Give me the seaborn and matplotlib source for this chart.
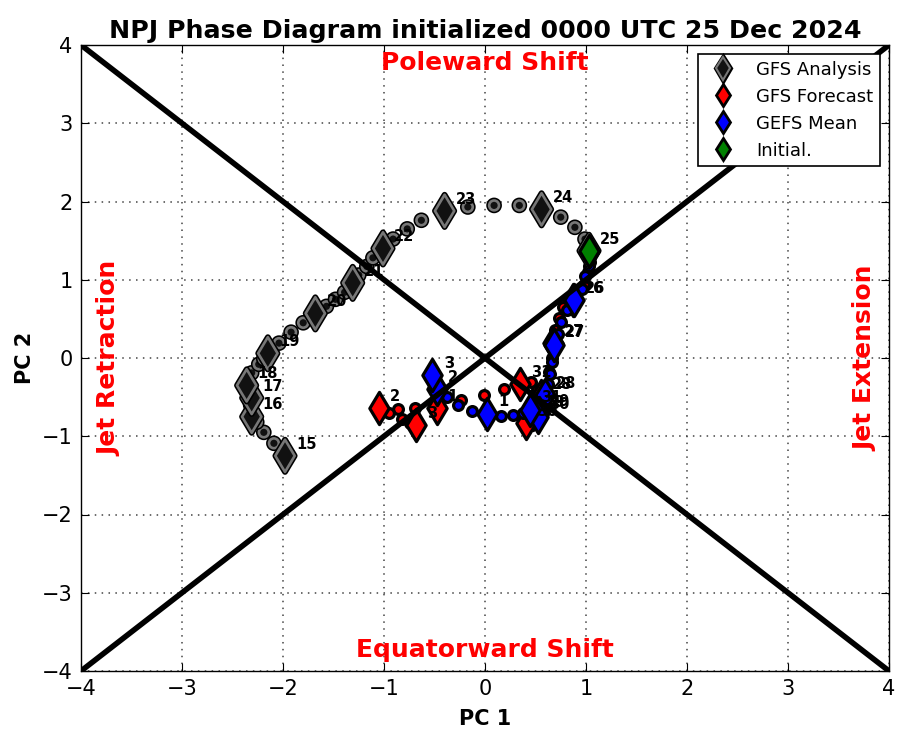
import matplotlib
matplotlib.use("Agg")
import matplotlib.pyplot as plt
import matplotlib.patheffects as pe
from matplotlib.lines import Line2D
import pandas as pd
import seaborn as sns

sns.set_style("white")
plt.rcParams['font.family'] = ['DejaVu Sans']
plt.rcParams['text.color'] = 'black'
plt.rcParams['axes.labelcolor'] = 'black'
plt.rcParams['xtick.color'] = 'black'
plt.rcParams['ytick.color'] = 'black'

# every 4th value is a daily (diamond) point
ana_x = [-1.98,-2.09,-2.19,-2.26,-2.31,-2.31,-2.32,-2.31,-2.31,-2.32,-2.35,-2.37,-2.36,-2.31,-2.24,-2.19,-2.15,-2.04,-1.92,-1.80,-1.68,-1.57,-1.48,-1.39,-1.31,-1.25,-1.17,-1.11,-1.01,-.91,-.77,-.63,-.40,-.17,.09,.34,.56,.75,.89,.99,1.03]
ana_y = [-1.25,-1.09,-.95,-.82,-.75,-.68,-.60,-.55,-.51,-.46,-.42,-.38,-.35,-.19,-.08,-.01,.06,.19,.33,.45,.57,.66,.75,.84,.96,1.06,1.17,1.28,1.40,1.52,1.65,1.76,1.88,1.93,1.95,1.95,1.90,1.80,1.67,1.52,1.37]
ana_days = ["15","16","17","18","19","20","21","22","23","24","25"]

gfs_x = [1.03,1.04,1.02,.98,.87,.77,.73,.69,.67,.66,.63,.60,.55,.52,.50,.50,.48,.46,.44,.42,.41,.48,.51,.46,.35,.19,-.01,-.24,-.48,-.69,-.86,-1.02,-1.05,-.95,-.82,-.74,-.68]
gfs_y = [1.37,1.23,1.10,.93,.74,.65,.51,.36,.19,0.0,-.18,-.35,-.49,-.56,-.64,-.69,-.72,-.75,-.79,-.82,-.83,-.60,-.41,-.31,-.33,-.40,-.47,-.54,-.64,-.64,-.65,-.66,-.64,-.70,-.78,-.83,-.86]
gfs_days = ["","26","27","28","29","30","31","1","2","3"]

gefs_x = [1.03,1.03,.99,.96,.88,.81,.75,.72,.68,.66,.64,.62,.59,.58,.55,.53,.53,.52,.53,.53,.52,.50,.48,.46,.45,.38,.28,.16,.02,-.13,-.27,-.38,-.48,-.50,-.51,-.52,-.52]
gefs_y = [1.37,1.18,1.05,.88,.74,.61,.46,.31,.17,-.05,-.20,-.33,-.47,-.60,-.66,-.72,-.70,-.71,-.72,-.74,-.75,-.72,-.69,-.67,-.66,-.70,-.73,-.74,-.71,-.68,-.60,-.50,-.40,-.34,-.28,-.24,-.22]
gefs_days = ["","26","27","28","29","30","31","1","2","3"]

diag_x = [-4, 4]
diag_up = [-4, 4]
diag_down = [4, -4]
legend_labels = ["GFS Analysis", "GFS Forecast", "GEFS Mean", "Initial."]

fig = plt.figure(figsize=(9.11, 7.5), dpi=100)
ax = fig.add_axes([81/911, 1-671/750, 808/911, 626/750])

halo = [pe.withStroke(linewidth=4.2, foreground="black")]


def track(xs, ys, days, face, edge, lw, effects=None, z=3.0):
    df = pd.DataFrame({"x": xs, "y": ys})
    daily = df.iloc[::4]
    hourly = df.drop(daily.index)
    a = sns.scatterplot(data=hourly, x="x", y="y", marker="o", s=50, color=face,
                        edgecolor=edge, linewidth=lw, ax=ax, zorder=z, legend=False)
    a.collections[-1].set_path_effects(effects or [])
    a = sns.scatterplot(data=daily, x="x", y="y", marker="d", s=270, color=face,
                        edgecolor=edge, linewidth=lw, ax=ax, zorder=z, legend=False)
    a.collections[-1].set_path_effects(effects or [])
    for (_, r), d in zip(daily.iterrows(), days):
        ax.text(r.x + 0.11, r.y + 0.15, d, fontsize=10.5, fontweight="bold",
                ha="left", va="center", color="black", zorder=6)


track(gfs_x, gfs_y, gfs_days, "red", "black", 2.3)
track(gefs_x, gefs_y, gefs_days, "blue", "black", 2.3, z=3.5)
track(ana_x, ana_y, ana_days, "#111111", "#777777", 1.9, halo, z=4)

sns.scatterplot(x=[ana_x[-1]], y=[ana_y[-1]], marker="d", s=270, color="green",
                edgecolor="black", linewidth=2.3, ax=ax, zorder=5, legend=False)

sns.lineplot(x=diag_x, y=diag_up, color="black", lw=4, ax=ax, zorder=5, errorbar=None)
sns.lineplot(x=diag_x, y=diag_down, color="black", lw=4, ax=ax, zorder=5, errorbar=None)

ax.set_xlim(-4, 4)
ax.set_ylim(-4, 4)
ax.grid(True, color="#444444", linestyle=(0, (1, 3.5)), linewidth=1.1)
ax.set_axisbelow(True)
ax.tick_params(direction="in", top=True, right=True, bottom=True, left=True,
               length=6, width=0.8, labelsize=15, color="black", pad=6)
for s in ax.spines.values():
    s.set_color("black")
    s.set_linewidth(1)
ax.set_xlabel("PC 1", fontsize=15, fontweight="bold", labelpad=7)
ax.set_ylabel("PC 2", fontsize=15, fontweight="bold", labelpad=5)
ax.set_title("NPJ Phase Diagram initialized 0000 UTC 25 Dec 2024", fontsize=18.2,
             fontweight="bold", pad=5)

red_kw = dict(color="red", fontsize=18, fontweight="bold", ha="center", va="center", zorder=7)
ax.text(0, 3.77, "Poleward Shift", **red_kw)
ax.text(0, -3.73, "Equatorward Shift", **red_kw)
ax.text(-3.72, 0, "Jet Retraction", rotation=90, **red_kw)
ax.text(3.77, 0, "Jet Extension", rotation=90, **red_kw)


def h(face, edge="black", effects=None, lw=2.0):
    line = Line2D([], [], marker="d", ls="none", markersize=11.5, markerfacecolor=face,
                  markeredgecolor=edge, markeredgewidth=lw)
    if effects:
        line.set_path_effects(effects)
    return line


handles = [h("#111111", "#777777", [pe.withStroke(linewidth=3.6, foreground="black")], 1.5),
           h("red"), h("blue"), h("green")]
leg = ax.legend(handles, legend_labels, loc="upper right", fontsize=13, frameon=True,
                fancybox=False, framealpha=1, edgecolor="black", borderpad=0.35,
                labelspacing=0.5, handletextpad=0.85, bbox_to_anchor=(0.9885, 0.985),
                borderaxespad=0)
leg.set_zorder(10)
leg.get_frame().set_linewidth(1.2)

fig.savefig("out.png", dpi=100)
